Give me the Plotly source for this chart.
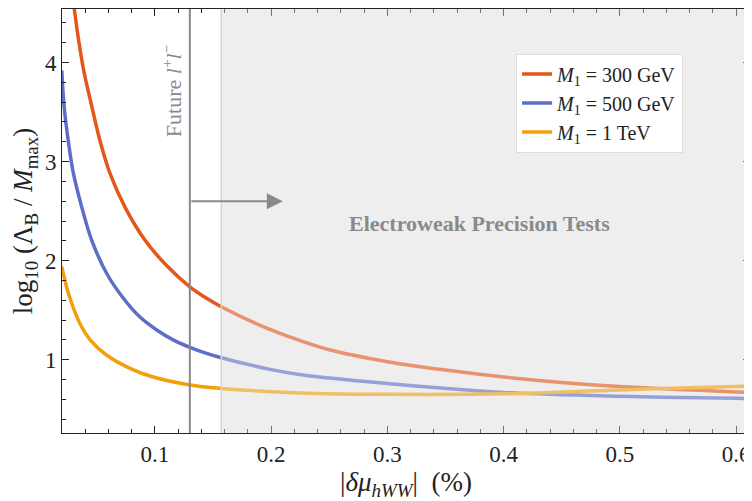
import plotly.graph_objects as go

# ---- data ----
x_300 = [0.0290, 0.0307, 0.0341, 0.0390, 0.0456, 0.0527, 0.0613, 0.0742, 0.0915, 0.110,
         0.130, 0.1444, 0.157, 0.190, 0.2245, 0.250, 0.300, 0.350, 0.400, 0.450, 0.500, 0.550, 0.600, 0.612]
y_300 = [4.67, 4.53, 4.24, 3.90, 3.56, 3.21, 2.88, 2.54, 2.205, 1.95,
         1.735, 1.62, 1.535, 1.35, 1.195, 1.10, 0.98, 0.895, 0.825, 0.77, 0.73, 0.70, 0.675, 0.67]

x_500 = [0.0198, 0.0218, 0.0255, 0.0298, 0.0370, 0.0456, 0.0585, 0.0728, 0.0871, 0.1015,
         0.1157, 0.130, 0.1444, 0.157, 0.200, 0.2245, 0.250, 0.300, 0.400, 0.500, 0.600, 0.612]
y_500 = [3.92, 3.56, 3.20, 2.88, 2.54, 2.205, 1.87, 1.62, 1.43, 1.30,
         1.20, 1.125, 1.064, 1.02, 0.90, 0.85, 0.815, 0.76, 0.67, 0.63, 0.61, 0.605]

x_1t = [0.0198, 0.0255, 0.0356, 0.0442, 0.0585, 0.0785, 0.097, 0.130, 0.157,
        0.2245, 0.300, 0.400, 0.500, 0.600, 0.612]
y_1t = [1.94, 1.67, 1.36, 1.20, 1.045, 0.913, 0.83, 0.745, 0.71,
        0.665, 0.65, 0.655, 0.695, 0.73, 0.735]

labels = ["<i>M</i><sub>1</sub> = 300 GeV", "<i>M</i><sub>1</sub> = 500 GeV", "<i>M</i><sub>1</sub> = 1 TeV"]
colors = ["#E4561A", "#5E6EC8", "#F29F0A"]

future_x = 0.13
ewpt_x = 0.157
arrow_y = 2.6
arrow_end = 0.21
x_range = [0.02, 0.612]
y_range = [0.26, 4.54]

FONT = "Liberation Serif"
GRAY = "#8a8a8a"
INK = "#222222"

fig = go.Figure()

# shaded EWPT region (background)
fig.add_shape(type="rect", xref="x", yref="y", x0=ewpt_x, x1=x_range[1], y0=y_range[0], y1=y_range[1],
              fillcolor="#EEEEEE", line=dict(width=0), layer="below")

for xs, ys, lab, col in zip([x_300, x_500, x_1t], [y_300, y_500, y_1t], labels, colors):
    fig.add_trace(go.Scatter(x=xs, y=ys, mode="lines", name=lab,
                             line=dict(color=col, width=3.5, shape="spline", smoothing=1.0)))

# translucent veil over the curves inside the EWPT region
fig.add_shape(type="rect", xref="x", yref="y", x0=ewpt_x, x1=x_range[1], y0=y_range[0], y1=y_range[1],
              fillcolor="rgba(238,238,238,0.4)", line=dict(width=0), layer="above")
fig.add_shape(type="line", xref="x", yref="y", x0=ewpt_x, x1=ewpt_x, y0=y_range[0], y1=y_range[1],
              line=dict(color="#D6D6D6", width=1.5), layer="above")

# future l+l- line
fig.add_shape(type="line", xref="x", yref="y", x0=future_x, x1=future_x, y0=y_range[0], y1=y_range[1],
              line=dict(color=GRAY, width=2))

fig.add_annotation(x=arrow_end, y=arrow_y, ax=future_x, ay=arrow_y, xref="x", yref="y", axref="x", ayref="y",
                   showarrow=True, arrowhead=2, arrowsize=1.6, arrowwidth=2, arrowcolor=GRAY, text="")

fig.add_annotation(x=0.1146, y=3.72, xref="x", yref="y",
                   text="Future <i>l</i><sup>+</sup><i>l</i><sup>−</sup>",
                   textangle=-90, showarrow=False, font=dict(family=FONT, size=22, color=GRAY))

fig.add_annotation(x=0.379, y=2.37, xref="x", yref="y", text="<b>Electroweak Precision Tests</b>",
                   showarrow=False, font=dict(family=FONT, size=22, color=GRAY))

axis_common = dict(showline=True, linecolor=INK, linewidth=1, mirror="ticks", ticks="inside",
                   tickcolor=INK, ticklen=7, tickwidth=1, showgrid=False, zeroline=False,
                   automargin=False,
                   tickfont=dict(family=FONT, size=23, color=INK))

fig.update_xaxes(range=x_range, tickvals=[0.1, 0.2, 0.3, 0.4, 0.5, 0.6],
                 ticktext=["0.1", "0.2", "0.3", "0.4", "0.5", "0.6"],
                 minor=dict(dtick=0.02, tick0=0, ticks="inside", ticklen=4, tickcolor=INK),
                 title=dict(text="|<i>δμ</i><sub><i>hWW</i></sub>|  (%)",
                            font=dict(family=FONT, size=27, color=INK), standoff=8),
                 **axis_common)
fig.update_yaxes(range=y_range, tickvals=[1, 2, 3, 4], ticktext=["1", "2", "3", "4"],
                 minor=dict(dtick=0.2, tick0=0, ticks="inside", ticklen=4, tickcolor=INK),
                 title=dict(text="log<sub>10</sub> (Λ<sub>B</sub> / <i>M</i><sub>max</sub>)",
                            font=dict(family=FONT, size=27, color=INK), standoff=6),
                 **axis_common)

# page body keeps an 8px margin, so the figure is sized to fit the 752x501 window
fig.update_layout(width=744, height=493, margin=dict(l=54, r=2, t=1, b=68),
                  paper_bgcolor="white", plot_bgcolor="white",
                  showlegend=True,
                  legend=dict(x=0.66, y=0.895, xanchor="left", yanchor="top", bgcolor="white",
                              bordercolor="#DDDDDD", borderwidth=1, itemwidth=30,
                              font=dict(family=FONT, size=20, color=INK), tracegroupgap=0))

fig.write_html("out.html")
